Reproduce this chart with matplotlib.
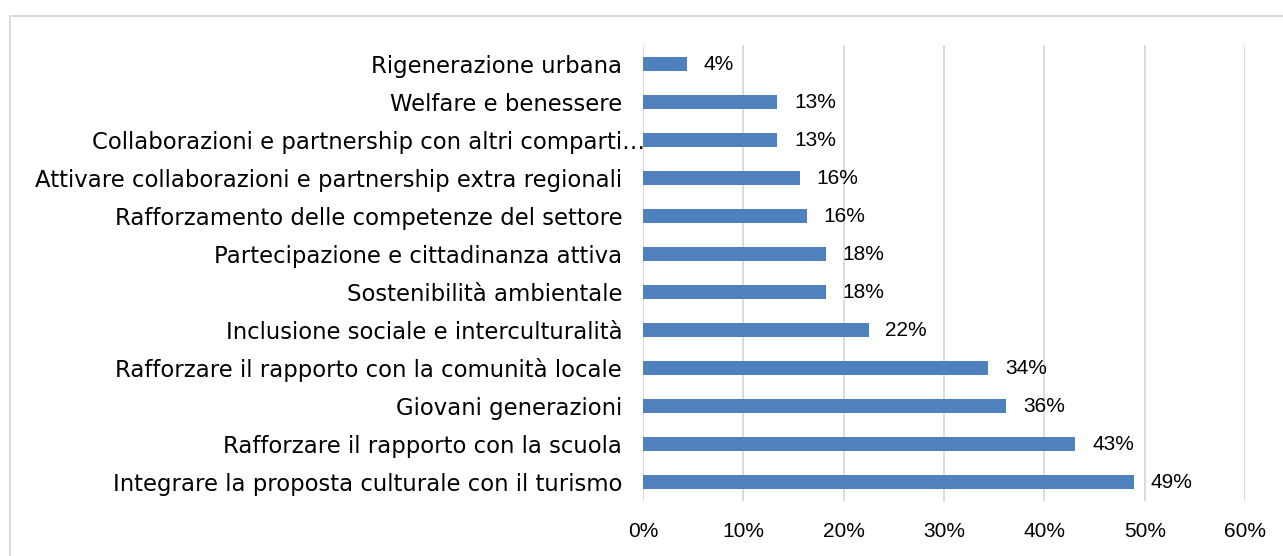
import matplotlib.pyplot as plt
import matplotlib.transforms as mtransforms
from matplotlib.patches import Rectangle
from matplotlib.ticker import FuncFormatter

# Data (top to bottom, as in the chart)
categories = [
    "Rigenerazione urbana",
    "Welfare e benessere",
    "Collaborazioni e partnership con altri comparti\u2026",
    "Attivare collaborazioni e partnership extra regionali",
    "Rafforzamento delle competenze del settore",
    "Partecipazione e cittadinanza attiva",
    "Sostenibilità ambientale",
    "Inclusione sociale e interculturalità",
    "Rafforzare il rapporto con la comunità locale",
    "Giovani generazioni",
    "Rafforzare il rapporto con la scuola",
    "Integrare la proposta culturale con il turismo",
]
values = [4.4, 13.4, 13.4, 15.6, 16.3, 18.2, 18.2, 22.5, 34.4, 36.2, 43.1, 48.9]
x_ticks = [0, 10, 20, 30, 40, 50, 60]

BAR_COLOR = "#4f81bd"
GRID_COLOR = "#d9d9d9"
LABEL_FONT = "DejaVu Sans"
NUM_FONT = ["Liberation Sans Narrow", "Liberation Sans", "DejaVu Sans"]

fig = plt.figure(figsize=(12.83, 5.56), dpi=100)

# light chart border (runs off the right and bottom edges)
fig.patches.append(Rectangle((10 / 1283, -0.1), 1.2, 1 - 16 / 556 + 0.1,
                             transform=fig.transFigure, fill=False,
                             edgecolor=GRID_COLOR, linewidth=1.3))

ax = fig.add_axes([643 / 1283, 1 - 501 / 556, 602 / 1283, 456 / 556])

pos = list(range(len(categories)))
bars = ax.barh(pos, values, height=0.38, color=BAR_COLOR, zorder=3)
ax.set_ylim(len(categories) - 0.5, -0.5)
ax.set_xlim(0, 60)

ax.set_yticks(pos)
ax.set_yticklabels(categories, fontsize=16.4, family=LABEL_FONT, color="#000000")
ax.tick_params(axis="y", length=0, pad=15)

ax.set_xticks(x_ticks)
ax.xaxis.set_major_formatter(FuncFormatter(lambda v, p: f"{v:.0f}%"))
for lab in ax.get_xticklabels():
    lab.set_family(NUM_FONT)
    lab.set_fontsize(15)
ax.tick_params(axis="x", length=0, pad=15)

ax.grid(axis="x", color=GRID_COLOR, linewidth=1.3, zorder=0)
for s in ax.spines.values():
    s.set_visible(False)

# the truncated label overflows up to the axis in the original
trunc = ax.get_yticklabels()[2]
trunc.set_transform(trunc.get_transform() +
                    mtransforms.ScaledTranslation(23 / 100, 0, fig.dpi_scale_trans))

ax.bar_label(bars, labels=[f"{round(v)}%" for v in values], padding=12,
             fontsize=15, family=NUM_FONT, color="#000000")

fig.savefig("out.png", dpi=100)
